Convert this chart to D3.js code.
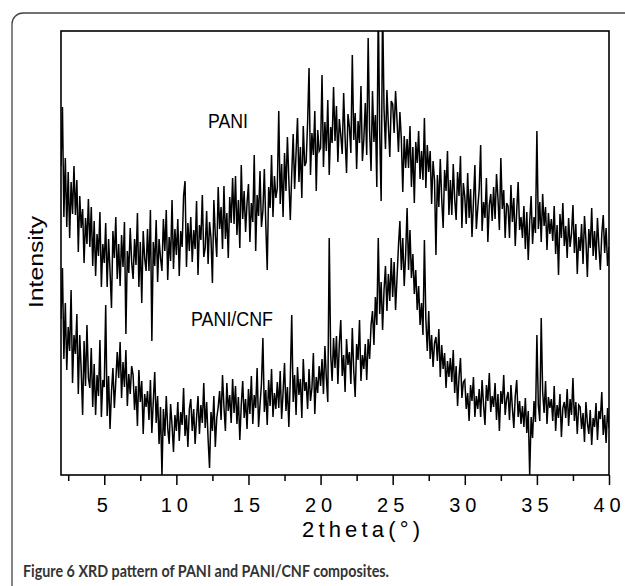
<!DOCTYPE html>
<html>
<head>
<meta charset="utf-8">
<script src="https://cdn.jsdelivr.net/npm/d3@7"></script>
<style>
body { margin: 0; background: #fff; }
</style>
</head>
<body>
<svg id="chart" width="625" height="586"></svg>
<script>
// 2theta samples start at 2.0 and step by 0.1 degree
var thetaStart = 2.0, thetaStep = 0.1;

// PANI, intensity (arbitrary units), one row per degree
var pani = [
  309, 368, 258, 317, 248, 303, 237, 293, 261, 309,
  260, 295, 223, 279, 247, 266, 212, 257, 231, 276,
  228, 268, 209, 254, 199, 241, 219, 263, 188, 231,
  212, 252, 188, 236, 204, 167, 244, 217, 258, 196,
  231, 189, 240, 208, 253, 141, 224, 202, 247, 213,
  196, 236, 210, 262, 188, 233, 172, 244, 217, 204,
  246, 204, 265, 134, 233, 209, 255, 193, 236, 217,
  204, 256, 224, 265, 195, 238, 214, 275, 206, 246,
  220, 256, 199, 244, 228, 279, 294, 208, 252, 224,
  258, 213, 245, 226, 274, 200, 250, 235, 280, 218,
  227, 264, 211, 253, 237, 192, 275, 240, 218, 288,
  246, 268, 226, 289, 236, 262, 217, 278, 252, 297,
  251, 299, 240, 275, 227, 310, 256, 284, 243, 272,
  291, 233, 272, 253, 320, 224, 280, 259, 304, 248,
  264, 306, 251, 205, 288, 267, 320, 258, 299, 277,
  287, 364, 271, 311, 258, 322, 284, 338, 295, 255,
  301, 341, 286, 322, 357, 293, 328, 277, 349, 309,
  313, 352, 407, 300, 342, 320, 364, 284, 345, 324,
  327, 400, 308, 353, 324, 375, 300, 348, 332, 388,
  334, 369, 313, 356, 340, 321, 382, 337, 302, 361,
  348, 322, 420, 335, 362, 306, 354, 332, 389, 314,
  336, 372, 320, 437, 344, 304, 384, 333, 360, 288,
  470, 342, 274, 470, 366, 326, 385, 350, 318, 374,
  371, 342, 384, 355, 323, 363, 336, 283, 339, 307,
  336, 307, 349, 288, 328, 272, 333, 312, 344, 296,
  324, 295, 357, 287, 330, 303, 324, 271, 314, 295,
  220, 300, 268, 316, 276, 247, 305, 284, 324, 260,
  295, 260, 311, 276, 255, 303, 279, 319, 247, 292,
  278, 251, 302, 257, 286, 238, 273, 310, 246, 267,
  286, 330, 244, 273, 257, 297, 233, 270, 281, 254,
  288, 256, 301, 277, 245, 317, 266, 285, 237, 272,
  269, 237, 290, 253, 277, 229, 264, 293, 245, 258,
  237, 269, 226, 263, 215, 253, 279, 231, 258, 242,
  344, 246, 273, 233, 281, 249, 268, 225, 262, 241,
  256, 234, 269, 221, 250, 200, 261, 237, 272, 229,
  249, 217, 257, 228, 241, 270, 222, 251, 201, 238,
  224, 251, 211, 259, 235, 198, 246, 227, 267, 219,
  244, 215, 257, 228, 205, 241, 260, 222, 247, 209,
  228
];

// PANI/CNF
var paniCnf = [
  156, 207, 116, 172, 105, 148, 124, 185, 92, 140,
  121, 161, 81, 140, 105, 60, 134, 89, 150, 97,
  87, 127, 68, 111, 60, 100, 79, 135, 58, 95,
  88, 170, 59, 99, 46, 83, 107, 67, 94, 123,
  97, 133, 77, 113, 88, 125, 69, 101, 81, 109,
  100, 65, 89, 49, 105, 73, 94, 41, 81, 68,
  84, 55, 95, 42, 74, 103, 52, 79, 31, 68,
  -1, 66, 39, 79, 47, 31, 71, 50, 23, 60,
  44, 73, 34, 63, 50, 87, 39, 60, 28, 66,
  76, 44, 66, 31, 57, 79, 41, 70, 52, 92,
  47, 73, 36, 7, 63, 44, 79, 28, 57, 68,
  84, 55, 100, 68, 44, 92, 64, 80, 52, 96,
  62, 89, 51, 78, 35, 70, 94, 57, 76, 46,
  86, 61, 99, 51, 80, 67, 107, 48, 70, 91,
  137, 63, 85, 50, 95, 69, 106, 58, 82, 66,
  93, 67, 104, 56, 83, 112, 64, 88, 48, 96,
  160, 73, 100, 60, 108, 80, 96, 57, 116, 84,
  93, 66, 106, 74, 87, 122, 61, 98, 82, 109,
  89, 116, 81, 129, 97, 73, 237, 121, 94, 137,
  107, 139, 91, 131, 155, 99, 120, 83, 136, 110,
  123, 91, 147, 104, 78, 131, 115, 155, 94, 120,
  106, 131, 95, 136, 116, 150, 164, 130, 178, 150,
  237, 161, 193, 145, 185, 209, 164, 201, 174, 217,
  178, 213, 165, 197, 229, 254, 205, 237, 189, 221,
  267, 205, 245, 197, 221, 181, 205, 165, 189, 150,
  172, 140, 235, 156, 124, 164, 116, 140, 108, 132,
  138, 114, 146, 98, 130, 106, 122, 87, 114, 98,
  117, 93, 125, 82, 109, 69, 98, 117, 77, 93,
  95, 66, 82, 54, 90, 74, 98, 58, 79, 66,
  86, 58, 95, 70, 50, 90, 74, 102, 63, 79,
  68, 92, 55, 81, 44, 84, 71, 100, 60, 76,
  83, 55, 90, 67, 47, 79, 95, 58, 74, 51,
  69, 48, 77, 42, 64, 0, 58, 37, 74, 53,
  140, 70, 54, 157, 83, 62, 94, 51, 78, 67,
  76, 54, 89, 44, 70, 57, 81, 38, 67, 73,
  57, 86, 49, 76, 60, 97, 54, 73, 41, 70,
  68, 46, 62, 33, 73, 52, 41, 65, 30, 57,
  48, 72, 35, 64, 56, 83, 40, 60, 32, 67,
  47
];

var majorTicks = [5, 10, 15, 20, 25, 30, 35, 40];
var minorTicks = [2.5, 7.5, 12.5, 17.5, 22.5, 27.5, 32.5, 37.5];
var seriesLabels = ["PANI", "PANI/CNF"];
var xTitle = "2theta(\u00B0)";
var yTitle = "Intensity";
var caption = "Figure 6 XRD pattern of PANI and PANI/CNF composites.";

var svg = d3.select("#chart");
var m = {l: 61, r: 609, t: 31, b: 475};

var x = d3.scaleLinear().domain([2, 40]).range([m.l, m.r]);
var y = d3.scaleLinear().domain([0, 444]).range([m.b, m.t]);

// outer rounded box of the figure panel
svg.append("rect")
    .attr("x", 12).attr("y", 13)
    .attr("width", 660).attr("height", 620)
    .attr("rx", 11)
    .attr("fill", "none")
    .attr("stroke", "#444")
    .attr("stroke-width", 1.3);

svg.append("clipPath").attr("id", "plotclip")
  .append("rect")
    .attr("x", m.l).attr("y", m.t)
    .attr("width", m.r - m.l).attr("height", m.b - m.t);

var line = d3.line()
    .x(function(d, i) { return x(thetaStart + i * thetaStep); })
    .y(function(d) { return y(d); });

var plot = svg.append("g").attr("clip-path", "url(#plotclip)");
[pani, paniCnf].forEach(function(s) {
    plot.append("path")
        .datum(s)
        .attr("d", line)
        .attr("fill", "none")
        .attr("stroke", "#000")
        .attr("stroke-width", 1.5);
});

// frame
svg.append("rect")
    .attr("x", m.l).attr("y", m.t)
    .attr("width", m.r - m.l).attr("height", m.b - m.t)
    .attr("fill", "none")
    .attr("stroke", "#000")
    .attr("stroke-width", 1.6);

// x axis: major and minor ticks
var gMinor = svg.append("g").attr("transform", "translate(0," + m.b + ")")
    .call(d3.axisBottom(x).tickValues(minorTicks).tickSize(6).tickFormat(""));
gMinor.select(".domain").remove();

var gMajor = svg.append("g").attr("transform", "translate(0," + m.b + ")")
    .call(d3.axisBottom(x).tickValues(majorTicks).tickSize(10).tickFormat(d3.format("d")));
gMajor.select(".domain").remove();

svg.selectAll(".tick line").attr("stroke", "#000").attr("stroke-width", 1.5);
gMajor.selectAll("text")
    .attr("y", 37).attr("dy", 0)
    .attr("fill", "#000")
    .attr("font-family", "'Liberation Sans', Arial, sans-serif")
    .attr("font-size", 20)
    .attr("letter-spacing", 5);

// series labels
svg.append("text")
    .attr("x", 208).attr("y", 128)
    .attr("font-family", "'Liberation Sans', Arial, sans-serif")
    .attr("font-size", 20)
    .attr("textLength", 40).attr("lengthAdjust", "spacingAndGlyphs")
    .text(seriesLabels[0]);

svg.append("text")
    .attr("x", 191).attr("y", 326)
    .attr("font-family", "'Liberation Sans', Arial, sans-serif")
    .attr("font-size", 20)
    .attr("textLength", 82).attr("lengthAdjust", "spacingAndGlyphs")
    .text(seriesLabels[1]);

// axis titles
svg.append("text")
    .attr("transform", "translate(43," + 308 + ") rotate(-90)")
    .attr("font-family", "'Liberation Sans', Arial, sans-serif")
    .attr("font-size", 21)
    .attr("textLength", 92).attr("lengthAdjust", "spacingAndGlyphs")
    .text(yTitle);

svg.append("text")
    .attr("x", 302).attr("y", 537)
    .attr("font-family", "'Liberation Sans', Arial, sans-serif")
    .attr("font-size", 22)
    .attr("textLength", 118).attr("lengthAdjust", "spacing")
    .text(xTitle);

// caption
svg.append("text")
    .attr("x", 23).attr("y", 577)
    .attr("font-family", "Lato, 'Open Sans', sans-serif")
    .attr("font-weight", "bold")
    .attr("font-size", 17)
    .attr("fill", "#333")
    .attr("textLength", 366).attr("lengthAdjust", "spacingAndGlyphs")
    .text(caption);
</script>
</body>
</html>
